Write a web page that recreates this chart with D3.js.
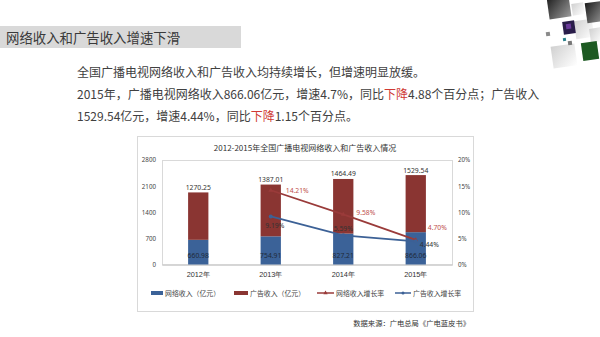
<!DOCTYPE html>
<html><head><meta charset="utf-8">
<script src="https://cdn.jsdelivr.net/npm/d3@7"></script>
<style>
html,body{margin:0;padding:0;background:#fff;}
svg{display:block;font-family:"Noto Sans CJK SC","Noto Sans",sans-serif;}
</style></head>
<body>
<svg id="c" width="600" height="337"></svg>
<script>
// ---- data ----
const categories = ["2012年","2013年","2014年","2015年"];
const networkIncome = [660.98, 754.91, 827.21, 866.06];
const adIncome = [1270.25, 1387.01, 1464.49, 1529.54];
const networkGrowth = [null, 14.21, 9.58, 4.70];
const adGrowth = [null, 9.19, 5.59, 4.44];
const leftTicks = [0, 700, 1400, 2100, 2800];
const rightTicks = [0, 5, 10, 15, 20];
const seriesNames = ["网络收入（亿元）","广告收入（亿元）","网络收入增长率","广告收入增长率"];
const headerText = "网络收入和广告收入增速下滑";
const chartTitle = "2012-2015年全国广播电视网络收入和广告收入情况";
const sourceText = "数据来源：广电总局《广电蓝皮书》";

const svg = d3.select("#c");
const BLUE = "#3b6298", RED = "#8a3532", RLINE = "#9a3b3a", BLINE = "#3c6196";

// ---- decoration top-right ----
const deco = svg.append("g");
const defs = svg.append("defs");
const g1 = defs.append("linearGradient").attr("id","dk").attr("x1",0).attr("y1",0).attr("x2",1).attr("y2",1);
g1.append("stop").attr("offset","0").attr("stop-color","#1c1c1c");
g1.append("stop").attr("offset","1").attr("stop-color","#9a9a9a");
const g2 = defs.append("linearGradient").attr("id","lt").attr("x1",0).attr("y1",0).attr("x2",1).attr("y2",1);
g2.append("stop").attr("offset","0").attr("stop-color","#d0d0d0");
g2.append("stop").attr("offset","1").attr("stop-color","#ffffff");
const decoRects = [
  {x:552,y:45,w:24,h:22,f:"url(#lt)"},
  {x:575,y:20,w:18,h:18,f:"url(#lt)"},
  {x:572,y:3,w:12,h:12,f:"url(#lt)"},
  {x:590,y:28,w:12,h:14,f:"url(#lt)"},
  {x:548,y:-4,w:22,h:22,f:"url(#dk)"},
  {x:586,y:2,w:18,h:20,f:"url(#dk)"},
  {x:563,y:21,w:12,h:13,f:"#2a1d4a"},
  {x:582,y:42,w:16,h:18,f:"#1d5a22"},
  {x:546,y:32,w:4,h:4,f:"#8a8a8a"},
  {x:563,y:38,w:3,h:3,f:"#2a7f8a"},
  {x:568,y:41,w:4,h:4,f:"#777"}
];
deco.selectAll("rect").data(decoRects).join("rect")
  .attr("x",d=>d.x).attr("y",d=>d.y).attr("width",d=>d.w).attr("height",d=>d.h)
  .attr("fill",d=>d.f)
  .attr("transform",d=>`rotate(-8 ${d.x+d.w/2} ${d.y+d.h/2})`);
deco.append("rect").attr("x",566).attr("y",24).attr("width",5).attr("height",5).attr("fill","#6a3a9a")
  .attr("transform","rotate(-8 568 26)");

// ---- header ----
svg.append("rect").attr("x",0).attr("y",26).attr("width",241).attr("height",22).attr("fill","#d9d9d9");
svg.append("text").attr("x",6).attr("y",42.5).attr("font-size",13.4).attr("fill","#3a3a3a").text(headerText);

// ---- body text ----
const body = svg.append("g").attr("font-size",12).attr("fill","#404040");
const l1 = body.append("text").attr("x",77).attr("y",76.5);
l1.text("全国广播电视网络收入和广告收入均持续增长，但增速明显放缓。");
const l2 = body.append("text").attr("x",77).attr("y",98.5);
l2.append("tspan").text("2015年，广播电视网络收入866.06亿元，增速4.7%，同比");
l2.append("tspan").attr("fill","#d03a34").text("下降");
l2.append("tspan").text("4.88个百分点；广告收入");
const l3 = body.append("text").attr("x",77).attr("y",120.5);
l3.append("tspan").text("1529.54亿元，增速4.44%，同比");
l3.append("tspan").attr("fill","#d03a34").text("下降");
l3.append("tspan").text("1.15个百分点。");

// ---- chart frame ----
svg.append("rect").attr("x",137.5).attr("y",136.5).attr("width",336).attr("height",175)
  .attr("fill","#fff").attr("stroke","#d9d9d9");
svg.append("text").attr("x",305).attr("y",151).attr("text-anchor","middle")
  .attr("font-size",8).attr("fill","#333").text(chartTitle);

const pLeft=162, pRight=452, pTop=160, pBottom=264.5;
const x = d3.scaleBand().domain(categories).range([pLeft,pRight]).paddingInner(0.72).paddingOuter(0.36);
const yL = d3.scaleLinear().domain([0,2800]).range([pBottom,pTop]);
const yR = d3.scaleLinear().domain([0,20]).range([pBottom,pTop]);

// plot border
svg.append("rect").attr("x",pLeft+0.5).attr("y",pTop+0.5).attr("width",pRight-pLeft).attr("height",pBottom-pTop)
  .attr("fill","none").attr("stroke","#d9d9d9");

// axes
const numFont = "'Noto Sans','DejaVu Sans',sans-serif";
const axL = svg.append("g").attr("transform",`translate(${pLeft-3},0)`)
  .call(d3.axisLeft(yL).tickValues(leftTicks).tickSize(0).tickFormat(d3.format("d")));
axL.select(".domain").remove();
axL.selectAll("text").attr("font-size",6.2).attr("fill","#444").attr("font-family",numFont);
const axR = svg.append("g").attr("transform",`translate(${pRight+3},0)`)
  .call(d3.axisRight(yR).tickValues(rightTicks).tickSize(0).tickFormat(d=>d+"%"));
axR.select(".domain").remove();
axR.selectAll("text").attr("font-size",6.2).attr("fill","#444").attr("font-family",numFont);
const axB = svg.append("g").attr("transform",`translate(0,${pBottom})`)
  .call(d3.axisBottom(x).tickSize(0).tickPadding(7));
axB.select(".domain").attr("stroke","#bfbfbf");
axB.selectAll("text").attr("font-size",7.3).attr("fill","#333");

// bars
const stackData = categories.map((c,i)=>({c, n:networkIncome[i], a:adIncome[i]}));
const bars = svg.append("g");
bars.selectAll(".bn").data(stackData).join("rect").attr("class","bn")
  .attr("x",d=>x(d.c)).attr("width",x.bandwidth())
  .attr("y",d=>yL(d.n)).attr("height",d=>yL(0)-yL(d.n)).attr("fill",BLUE);
bars.selectAll(".ba").data(stackData).join("rect").attr("class","ba")
  .attr("x",d=>x(d.c)).attr("width",x.bandwidth())
  .attr("y",d=>yL(d.n+d.a)).attr("height",d=>yL(d.n)-yL(d.n+d.a)).attr("fill",RED);

// bar labels
bars.selectAll(".ln").data(stackData).join("text").attr("class","ln")
  .attr("x",d=>x(d.c)+x.bandwidth()/2).attr("y",pBottom-6.5).attr("text-anchor","middle")
  .attr("font-size",6.8).attr("font-family",numFont).attr("fill","#1f2a3a").text(d=>d.n.toFixed(2));
bars.selectAll(".la").data(stackData).join("text").attr("class","la")
  .attr("x",d=>x(d.c)+x.bandwidth()/2).attr("y",d=>yL(d.n+d.a)-2.5).attr("text-anchor","middle")
  .attr("font-size",6.8).attr("font-family",numFont).attr("fill","#333").text(d=>d.a.toFixed(2));

// lines
const cx = c => x(c)+x.bandwidth()/2;
function drawLine(vals, color, labelColor, nudges, marker){
  const pts = categories.map((c,i)=>({c, v:vals[i], i})).filter(d=>d.v!=null);
  const line = d3.line().x(d=>cx(d.c)).y(d=>yR(d.v));
  svg.append("path").datum(pts).attr("d",line).attr("fill","none").attr("stroke",color).attr("stroke-width",1.8);
  const g = svg.append("g");
  if(marker==="dot"){
    g.selectAll("circle").data(pts).join("circle").attr("cx",d=>cx(d.c)).attr("cy",d=>yR(d.v)).attr("r",2).attr("fill",color);
  } else {
    g.selectAll("path").data(pts).join("path").attr("d",d3.symbol(d3.symbolTriangle,10)())
      .attr("transform",d=>`translate(${cx(d.c)},${yR(d.v)})`).attr("fill",color);
  }
  g.selectAll("text").data(pts).join("text")
    .attr("x",d=>cx(d.c)+nudges[d.i][0]).attr("y",d=>yR(d.v)+nudges[d.i][1])
    .attr("text-anchor",d=>nudges[d.i][2]).attr("dominant-baseline","central")
    .attr("font-size",6.8).attr("font-family",numFont).attr("fill",labelColor)
    .text(d=>d.v.toFixed(2)+"%");
}
drawLine(networkGrowth, RLINE, "#c0504d",
  [null,[15,0,"start"],[13,-2,"start"],[12,-12,"start"]], "tri");
drawLine(adGrowth, BLINE, "#333",
  [null,[4,9,"middle"],[0,-7,"middle"],[4,3,"start"]], "dot");

// legend
const leg = svg.append("g").attr("font-size",6.9).attr("fill","#444");
const legItems = [
  {x:151, type:"rect", color:BLUE, w:12},
  {x:234, type:"rect", color:RED, w:14},
  {x:317, type:"line", color:RLINE, w:17},
  {x:395, type:"line", color:BLINE, w:16}
];
legItems.forEach((it,i)=>{
  const ly = 293;
  if(it.type==="rect"){
    leg.append("rect").attr("x",it.x).attr("y",ly-2).attr("width",it.w).attr("height",4).attr("fill",it.color);
  } else {
    leg.append("line").attr("x1",it.x).attr("x2",it.x+it.w).attr("y1",ly).attr("y2",ly).attr("stroke",it.color).attr("stroke-width",1.5);
    if(i===2) leg.append("path").attr("d",d3.symbol(d3.symbolTriangle,8)()).attr("transform",`translate(${it.x+it.w/2},${ly})`).attr("fill",it.color);
    else leg.append("circle").attr("cx",it.x+it.w/2).attr("cy",ly).attr("r",1.5).attr("fill",it.color);
  }
  leg.append("text").attr("x",it.x+it.w+2).attr("y",ly).attr("dominant-baseline","central").text(seriesNames[i]);
});

// source
svg.append("text").attr("x",470).attr("y",323).attr("text-anchor","end").attr("dominant-baseline","central")
  .attr("font-size",7.3).attr("fill","#333").text(sourceText);
</script>
</body></html>
